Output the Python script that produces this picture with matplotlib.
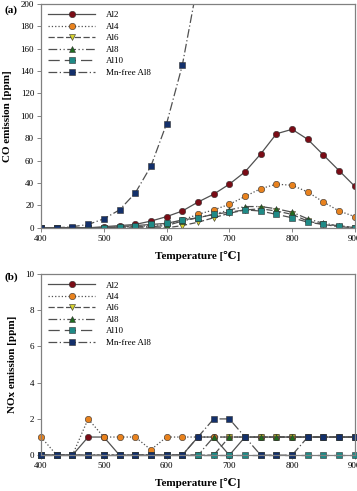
import matplotlib
matplotlib.use("Agg")
import matplotlib.pyplot as plt
import numpy as np

plt.rcParams['font.family'] = ['Liberation Serif', 'DejaVu Serif']

temps = np.arange(400, 901, 25)

# CO emission [ppm]
co_al2 = [0, 0, 0, 0, 1, 2, 3, 6, 10, 15, 23, 30, 39, 50, 66, 84, 88, 79, 65, 51, 37]
co_al4 = [0, 0, 0, 0, 0, 1, 1, 2, 3, 7, 12, 16, 21, 28, 35, 39, 38, 32, 23, 15, 10]
co_al6 = [0, 0, 0, 0, 0, 0, 0, 0, 0, 2, 5, 9, 13, 16, 17, 15, 12, 6, 3, 1, 0]
co_al8 = [0, 0, 0, 0, 0, 1, 1, 1, 2, 6, 9, 12, 16, 19, 19, 17, 14, 8, 4, 2, 0]
co_al10 = [0, 0, 0, 0, 0, 1, 2, 3, 4, 7, 9, 12, 14, 16, 15, 12, 9, 5, 3, 2, 0]
co_mnfree = [0, 0, 1, 3, 8, 16, 31, 55, 93, 145, 220]

# NOx emission [ppm]
nox_al2 = [0, 0, 0, 1, 1, 0, 0, 0, 0, 0, 1, 1, 0, 1, 1, 1, 1, 1, 1, 1, 1]
nox_al4 = [1, 0, 0, 2, 1, 1, 1, 0.3, 1, 1, 1, 1, 1, 1, 1, 1, 1, 1, 1, 1, 1]
nox_al6 = [0, 0, 0, 0, 0, 0, 0, 0, 0, 0, 0, 0, 1, 1, 1, 1, 1, 1, 1, 1, 1]
nox_al8 = [0, 0, 0, 0, 0, 0, 0, 0, 0, 0, 0, 1, 1, 1, 1, 1, 1, 1, 1, 1, 1]
nox_al10 = [0, 0, 0, 0, 0, 0, 0, 0, 0, 0, 0, 0, 0, 0, 0, 0, 0, 0, 0, 0, 0]
nox_mnfree = [0, 0, 0, 0, 0, 0, 0, 0, 0, 0, 1, 2, 2, 1, 0, 0, 0, 1, 1, 1, 1]

labels = ["Al2", "Al4", "Al6", "Al8", "Al10", "Mn-free Al8"]
styles = [
    dict(marker="o", mfc="#7a0c16", ls="-"),
    dict(marker="o", mfc="#e8821e", ls=":"),
    dict(marker="v", mfc="#d6d22e", ls=(0, (5, 2))),
    dict(marker="^", mfc="#1f6b1f", ls=(0, (7, 2, 1, 2, 1, 2))),
    dict(marker="s", mfc="#1f8a86", ls=(0, (9, 4))),
    dict(marker="s", mfc="#13306b", ls=(0, (7, 2, 1, 2))),
]
line_color = "#505050"


def draw_panel(ax, series, ymax, yticks, ylabel):
    for y, lab, st in zip(series, labels, styles):
        ax.plot(temps[:len(y)], y, color=line_color, lw=0.9, ls=st["ls"],
                marker=st["marker"], mfc=st["mfc"], mec="#303030", mew=0.4,
                ms=4.6, label=lab, clip_on=ymax > 50)
    ax.set_xlim(400, 900)
    ax.set_ylim(0, ymax)
    ax.set_xticks([400, 500, 600, 700, 800, 900])
    ax.set_yticks(yticks)
    ax.tick_params(labelsize=6.5, length=3, width=0.6, color="#707070",
                   direction="out", pad=2)
    for sp in ax.spines.values():
        sp.set_color("#808080")
        sp.set_linewidth(0.9)
    ax.set_xlabel("Temperature [℃]", fontsize=8, fontweight="bold", labelpad=6)
    ax.set_ylabel(ylabel, fontsize=8, fontweight="bold", labelpad=6)
    ax.legend(loc="upper left", frameon=False, fontsize=6.5, handlelength=5.2,
              handletextpad=1.2, labelspacing=0.35, borderaxespad=0.4)


fig = plt.figure(figsize=(3.57, 4.91), dpi=100)
ax1 = fig.add_axes([0.115, 0.536, 0.879, 0.456])
ax2 = fig.add_axes([0.115, 0.073, 0.879, 0.369])

draw_panel(ax1, [co_al2, co_al4, co_al6, co_al8, co_al10, co_mnfree], 200,
           range(0, 201, 20), "CO emission [ppm]")
draw_panel(ax2, [nox_al2, nox_al4, nox_al6, nox_al8, nox_al10, nox_mnfree], 10,
           range(0, 11, 2), "NOx emission [ppm]")

fig.text(0.012, 0.975, "(a)", fontsize=8, fontweight="bold")
fig.text(0.012, 0.43, "(b)", fontsize=8, fontweight="bold")

fig.savefig("out.png", dpi=100)
